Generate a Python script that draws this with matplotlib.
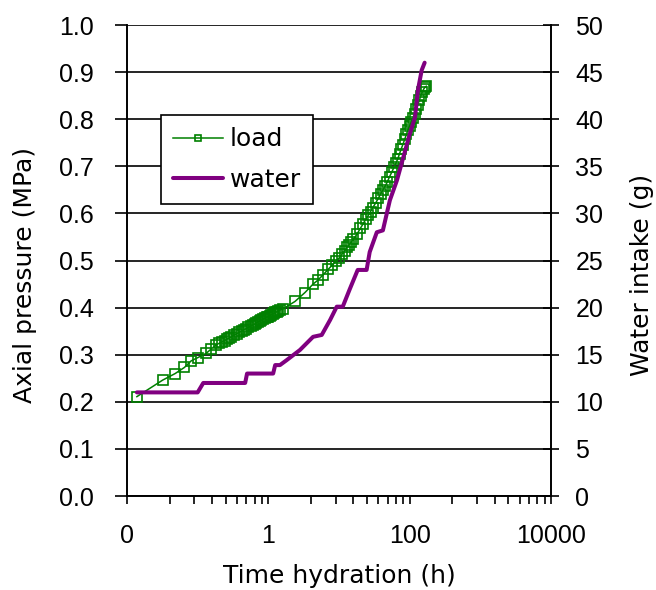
import matplotlib
matplotlib.use("Agg")
import matplotlib.pyplot as plt
from matplotlib.ticker import FixedLocator, FixedFormatter, NullFormatter
from matplotlib import font_manager

names = {f.name for f in font_manager.fontManager.ttflist}
NUM_FAM = [f for f in ['Liberation Sans Narrow', 'Liberation Sans', 'DejaVu Sans'] if f in names][:1] + ['DejaVu Sans']
TXT_FAM = ['DejaVu Sans']
plt.rcParams['font.family'] = TXT_FAM

# ---- data ----
load_time = [0.0138, 0.0319, 0.048, 0.065, 0.081, 0.101, 0.132, 0.155,
             0.18, 0.20, 0.22, 0.24, 0.26, 0.28, 0.30, 0.33, 0.36, 0.39, 0.42,
             0.45, 0.48, 0.52, 0.56, 0.60, 0.64, 0.68, 0.72, 0.76, 0.80, 0.85,
             0.90, 0.95, 1.00, 1.05, 1.10, 1.15, 1.20, 1.26, 1.32, 1.38, 1.46,
             1.6, 2.38, 3.3,
             4.3, 5, 6, 7, 8, 9, 10, 11, 12, 13, 14, 15, 16, 18, 20, 22, 24, 26,
             28, 30, 33, 36, 39, 42, 45, 48, 52, 56, 60, 64, 68, 72, 76, 80, 85,
             90, 95, 100, 106, 112, 118, 124, 130, 137, 144, 151, 158, 165, 172]
load_mpa = [0.211, 0.246, 0.260, 0.273, 0.287, 0.294, 0.303, 0.312,
            0.320, 0.324, 0.327, 0.330, 0.333, 0.336, 0.338, 0.342, 0.345, 0.348, 0.350,
            0.353, 0.355, 0.358, 0.361, 0.363, 0.365, 0.368, 0.370, 0.372, 0.373, 0.376,
            0.378, 0.380, 0.381, 0.383, 0.385, 0.386, 0.388, 0.390, 0.391, 0.393, 0.395,
            0.397, 0.413, 0.432,
            0.450, 0.458, 0.470, 0.481, 0.490, 0.498, 0.505, 0.513, 0.520, 0.528, 0.534,
            0.540, 0.545, 0.556, 0.568, 0.578, 0.588, 0.596, 0.604, 0.612, 0.622, 0.632,
            0.642, 0.650, 0.658, 0.666, 0.678, 0.688, 0.698, 0.707, 0.716, 0.727, 0.737,
            0.746, 0.757, 0.768, 0.778, 0.786, 0.795, 0.803, 0.812, 0.821, 0.830, 0.840,
            0.850, 0.858, 0.864, 0.868, 0.870]

water_time = [0.0138, 0.10, 0.12, 0.47, 0.50, 1.17, 1.25, 1.46, 1.8, 2.2, 2.8,
              4.3, 5.7, 7.5, 9.3, 11.3, 14.1, 18.4, 24.6, 27.2, 34.3, 41.8, 52.5,
              66, 77.6, 101, 119, 131, 148, 163]
water_g = [11.0, 11.0, 12.0, 12.0, 13.0, 13.0, 13.9, 13.9, 14.4, 14.9, 15.5,
           16.9, 17.1, 18.7, 20.1, 20.1, 21.9, 24.0, 24.0, 25.9, 28.0, 28.2, 31.4,
           33.5, 35.4, 38.5, 40.2, 43.1, 45.2, 46.0]

x_major = [0.01, 1, 100, 10000]
x_major_labels = ['0', '1', '100', '10000']
y_left_ticks = [0.0, 0.1, 0.2, 0.3, 0.4, 0.5, 0.6, 0.7, 0.8, 0.9, 1.0]
y_right_ticks = [0, 5, 10, 15, 20, 25, 30, 35, 40, 45, 50]

GREEN = '#008000'
PURPLE = '#800080'
FS = 18

fig = plt.figure(figsize=(6.56, 5.90), dpi=100)
ax = fig.add_axes([0.1936, 0.1593, 0.6463, 0.7983])
ax.set_xscale('log')
ax.set_xlim(0.01, 10000)
ax.set_ylim(0, 1.0)

ax.set_yticks(y_left_ticks)
ax.set_yticklabels([f'{v:.1f}' for v in y_left_ticks])
for v in y_left_ticks:
    ax.axhline(v, color='black', lw=1.2, zorder=0)

ax.xaxis.set_major_locator(FixedLocator(x_major))
ax.xaxis.set_major_formatter(FixedFormatter(x_major_labels))
minor = []
for base in [0.01, 1, 100]:
    for k in range(2, 10):
        minor.append(base * k * k)
ax.xaxis.set_minor_locator(FixedLocator(minor))
ax.xaxis.set_minor_formatter(NullFormatter())

ax.plot(load_time, load_mpa, color=GREEN, lw=1.1, marker='s', ms=7,
        mfc='none', mec=GREEN, mew=1.2, label='load', zorder=3)

ax.tick_params(axis='x', which='both', direction='out', length=6, width=1.2,
               labelsize=FS, colors='black', pad=14)
ax.tick_params(axis='y', which='both', direction='out', length=9, width=1.2,
               labelsize=FS, colors='black', pad=15)
for lab in ax.get_xticklabels() + ax.get_yticklabels():
    lab.set_family(NUM_FAM)
for s in ax.spines.values():
    s.set_linewidth(1.2)
ax.spines['top'].set_visible(False)

ax.set_xlabel('Time hydration (h)', fontsize=FS)
ax.xaxis.set_label_coords(0.5, -0.145)
ax.set_ylabel('Axial pressure (MPa)', fontsize=FS)
ax.yaxis.set_label_coords(-0.212, 0.47)

ax2 = ax.twinx()
ax2.set_ylim(0, 50)
ax2.set_yticks(y_right_ticks)
ax2.set_yticklabels([str(v) for v in y_right_ticks])
ax2.plot(water_time, water_g, color=PURPLE, lw=2.9, label='water', zorder=3,
         solid_capstyle='round', solid_joinstyle='round')
ax2.tick_params(axis='y', direction='inout', length=11, width=1.2, labelsize=FS, pad=12)
for lab in ax2.get_yticklabels():
    lab.set_family(NUM_FAM)
ax2.spines['top'].set_visible(False)
for s in ax2.spines.values():
    s.set_linewidth(1.2)
ax2.set_ylabel('Water intake (g)', fontsize=FS)
ax2.yaxis.set_label_coords(1.186, 0.47)

h1, l1 = ax.get_legend_handles_labels()
h2, l2 = ax2.get_legend_handles_labels()
leg = ax2.legend(h1 + h2, l1 + l2, loc='upper left', bbox_to_anchor=(0.08, 0.809),
                 fontsize=FS, frameon=True, fancybox=False, shadow=False,
                 numpoints=1, handlelength=2.0, handletextpad=0.25,
                 borderpad=0.5, labelspacing=0.65, borderaxespad=0)
leg.get_frame().set_edgecolor('black')
leg.get_frame().set_linewidth(1.2)
leg.get_frame().set_alpha(1)
leg.legend_handles[0].set_markersize(4.5)

fig.savefig('out.png', dpi=100)
